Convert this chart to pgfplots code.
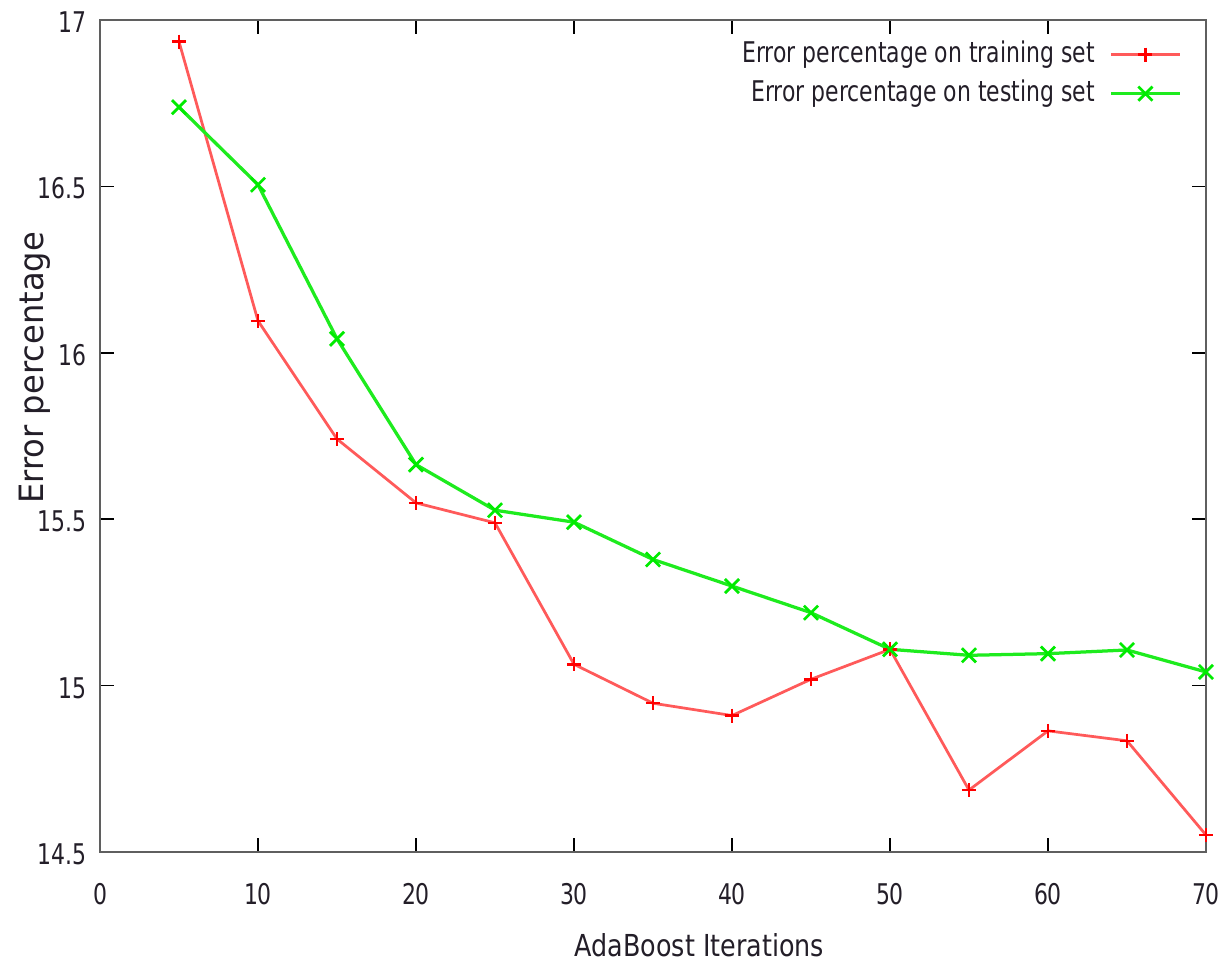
\documentclass[border=0pt]{standalone}
\usepackage{fontspec}
\setmainfont[FakeStretch=0.77]{DejaVu Sans}
\newfontfamily\xlabfont[FakeStretch=0.84]{DejaVu Sans}
\newfontfamily\ylabfont[FakeStretch=0.96]{DejaVu Sans}
\usepackage{pgfplots}
\pgfplotsset{compat=1.18}
\definecolor{trainline}{RGB}{255,90,90}
\definecolor{trainmark}{RGB}{255,0,0}
\definecolor{testline}{RGB}{30,235,30}
\definecolor{testmark}{RGB}{0,235,0}
\definecolor{frame}{RGB}{95,95,95}
\definecolor{txt}{RGB}{35,30,40}
\begin{document}
\fontsize{11.4}{13.7}\selectfont
\begin{tikzpicture}
\path[use as bounding box] (-40pt,-46pt) rectangle (452pt,340.8pt);
\begin{axis}[
  scale only axis,
  width=442.4pt, height=332.8pt,
  xmin=0, xmax=70, ymin=14.5, ymax=17,
  xtick={0,10,...,70},
  ytick={14.5,15,15.5,16,16.5,17},
  yticklabels={14.5,15,15.5,16,16.5,17},
  xticklabels={0,10,20,30,40,50,60,70},
  tick align=inside,
  major tick length=5.7pt,
  xtick pos=both, ytick pos=both,
  tick style={black, line width=0.6pt},
  axis line style={frame, line width=1.1pt},
  /pgf/number format/assume math mode=true,
  x tick label style={anchor=base, inner sep=0pt, yshift=-21.2pt, text=txt},
  y tick label style={anchor=base east, inner sep=0pt, xshift=-5.2pt, yshift=-5pt, text=txt},
  xlabel={\xlabfont\fontsize{12.1}{14}\selectfont AdaBoost Iterations},
  ylabel={\ylabfont\fontsize{13.4}{15}\selectfont Error percentage},
  xlabel style={at={(axis description cs:0.542,-0.1262)}, anchor=base, inner sep=0pt, text=txt},
  ylabel style={at={(axis description cs:-0.0515,0.582)}, anchor=base, inner sep=0pt, rotate=0, text=txt},
  legend plot pos=right,
  legend cell align=right,
  legend image code/.code={\draw[mark repeat=2, mark phase=2] plot coordinates {(0pt,0pt) (13.65pt,0pt) (27.3pt,0pt)};},
  legend style={at={(axis description cs:0.978,0.975)}, anchor=north east, draw=none, fill=none,
    inner sep=0pt, row sep=4.9pt, column sep=6pt,
    nodes={inner sep=0pt, text height=8.3pt, text depth=2.4pt, text=txt}},
]
\addplot[color=trainline, line width=1.1pt, mark=+, mark size=2.8pt, mark options={color=trainmark, line width=1pt}]
coordinates {(5,16.935) (10,16.096) (15,15.741) (20,15.549) (25,15.489) (30,15.064) (35,14.947) (40,14.910) (45,15.019) (50,15.109) (55,14.686) (60,14.864) (65,14.834) (70,14.551)};
\addlegendentry{Error percentage on training set}
\addplot[color=testline, line width=1.3pt, mark=x, mark size=4pt, mark options={color=testmark, line width=1.1pt}]
coordinates {(5,16.738) (10,16.505) (15,16.042) (20,15.664) (25,15.527) (30,15.491) (35,15.379) (40,15.299) (45,15.219) (50,15.109) (55,15.091) (60,15.096) (65,15.107) (70,15.041)};
\addlegendentry{Error percentage on testing set}
\end{axis}
\end{tikzpicture}
\end{document}
